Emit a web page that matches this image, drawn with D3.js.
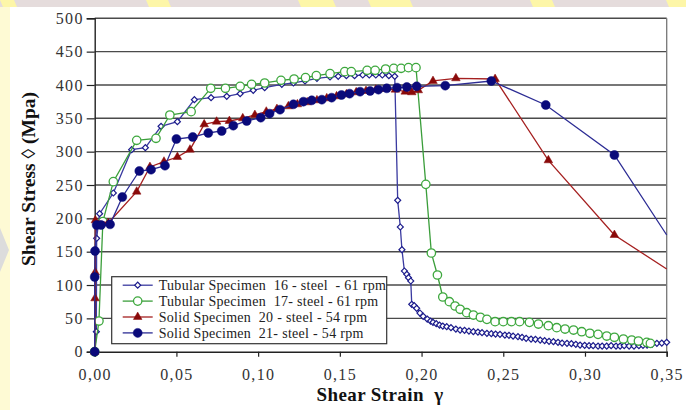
<!DOCTYPE html>
<html>
<head>
<meta charset="utf-8">
<script src="https://cdn.jsdelivr.net/npm/d3@7"></script>
<style>
  body { margin: 0; background: #fff; }
  svg { display: block; }
</style>
</head>
<body>
<svg id="chart" width="686" height="410"></svg>
<script>
// values: [shear strain, shear stress]
let tub16 = [[0,0],[0.001,30],[0.0012,170],[0.003,207],[0.0114,238],[0.0226,303],[0.031,306],[0.0406,338],[0.0506,345],[0.061,378],[0.0712,381],[0.0808,383],[0.089,387],[0.097,392],[0.104,396],[0.1145,401],[0.1216,403],[0.1287,406],[0.136,410],[0.144,412],[0.149,413],[0.154,414],[0.159,414],[0.164,415],[0.168,415],[0.172,415],[0.176,415],[0.180,414],[0.1836,413],[0.1854,227],[0.187,187],[0.188,153],[0.1895,121],[0.191,116],[0.192,111],[0.1934,106],[0.194,71],[0.1955,69],[0.197,65],[0.199,58],[0.201,53],[0.2035,49],[0.2055,46],[0.207,44],[0.209,42],[0.211,40],[0.213,38.5],[0.2154,37.5],[0.218,36],[0.221,34],[0.2236,32.5],[0.2263,32],[0.229,31],[0.2317,30],[0.2345,29.5],[0.237,28.5],[0.24,27.6],[0.2427,27],[0.2453,26.5],[0.248,26],[0.251,25],[0.2535,24.5],[0.256,23.5],[0.259,22.5],[0.2615,21.5],[0.264,20],[0.267,19],[0.2697,18.5],[0.2726,17.5],[0.2753,16.5],[0.278,15.5],[0.2807,15],[0.2835,14],[0.286,13],[0.289,12.6],[0.2917,12],[0.2944,11],[0.297,10],[0.2998,9.5],[0.3025,9],[0.305,9],[0.308,8.5],[0.3105,8.5],[0.3133,8.5],[0.316,9],[0.319,8.5],[0.3215,8.5],[0.324,9],[0.327,8.5],[0.33,8.5],[0.333,9],[0.3355,9.5],[0.338,10],[0.341,11],[0.344,12.5],[0.347,13],[0.35,14]];

let tub17 = [[0,0],[0.0026,46],[0.005,195],[0.0114,255],[0.0257,317],[0.0375,320],[0.046,355],[0.059,360],[0.071,395],[0.080,395],[0.089,398],[0.096,401],[0.104,403],[0.114,407],[0.122,409],[0.129,411],[0.1356,414],[0.144,417],[0.153,420],[0.157,420],[0.1667,422],[0.1716,422],[0.178,424],[0.183,425],[0.1875,425],[0.192,426],[0.1966,426],[0.2026,251],[0.206,148],[0.2097,115],[0.213,82],[0.217,75],[0.2205,68.5],[0.2236,63.6],[0.2276,58.5],[0.2317,55],[0.236,51.6],[0.24,48.5],[0.245,45],[0.25,45],[0.255,45],[0.26,45],[0.266,44],[0.2715,41.5],[0.2776,39],[0.2827,36],[0.2878,34],[0.293,32.5],[0.298,30],[0.303,27.6],[0.308,26],[0.3133,23.5],[0.318,21.6],[0.3235,19],[0.3286,17.5],[0.3327,16],[0.3378,14],[0.34,12.5]];

let sol20 = [[0,0],[0.0002,80],[0.0003,119],[0.0004,197],[0.0083,193],[0.0257,240],[0.0338,277],[0.0424,285],[0.0506,292],[0.0583,303],[0.067,341],[0.0746,345],[0.0824,346],[0.0906,350],[0.098,355],[0.105,360],[0.1115,364],[0.1185,368],[0.124,371],[0.13,374],[0.136,377],[0.142,380],[0.148,383],[0.154,386],[0.16,389],[0.166,391],[0.172,393],[0.178,394],[0.184,393],[0.19,390],[0.194,389],[0.198,392],[0.207,406],[0.221,410],[0.245,409],[0.2776,287],[0.318,175],[0.35,124]];

let sol21 = [[0,0],[0,112],[0.0002,151],[0.0012,190],[0.0039,190],[0.0094,191],[0.0169,232],[0.0273,271],[0.0345,273],[0.043,279],[0.050,319],[0.060,322],[0.0695,328],[0.0777,331],[0.0848,339],[0.093,346],[0.1016,351],[0.107,357],[0.1134,363],[0.1216,371],[0.1277,375],[0.1328,377],[0.139,378],[0.145,381],[0.151,385],[0.156,387],[0.1624,390],[0.1685,391],[0.1736,393],[0.1787,395],[0.185,396],[0.191,397],[0.197,398],[0.2145,399],[0.2427,406],[0.276,370],[0.318,295],[0.35,175]];

let seriesNames = [
    "Tubular Specimen  16 - steel  - 61 rpm",
    "Tubular Specimen  17- steel - 61 rpm",
    "Solid Specimen  20 - steel - 54 rpm",
    "Solid Specimen  21- steel - 54 rpm"
];
let xTicks = [0, 0.05, 0.10, 0.15, 0.20, 0.25, 0.30, 0.35];
let yTicks = [0, 50, 100, 150, 200, 250, 300, 350, 400, 450, 500];

let svg = d3.select("#chart");
let serif = "'Liberation Serif', 'Times New Roman', serif";

// watermark-ish page background
svg.append("rect").attr("width", 686).attr("height", 410).attr("fill", "#fff");
svg.append("rect").attr("width", 10).attr("height", 410).attr("fill", "#fefad4");
svg.append("polygon").attr("points", "0,228 9,250 0,272").attr("fill", "#dcdcdc");
svg.append("rect").attr("width", 686).attr("height", 7).attr("fill", "#e5dcdc");
[[0, 14], [146, 168], [298, 333], [368, 410], [530, 552], [666, 686]].forEach(function (p) {
    svg.append("polygon")
        .attr("points", p[0] + ",0 " + p[1] + ",0 " + (p[1] + 3) + ",7 " + (p[0] + 3) + ",7")
        .attr("fill", "#fdf6a8");
});

let x = d3.scaleLinear().domain([0, 0.35]).range([94.7, 666.7]);
let y = d3.scaleLinear().domain([0, 500]).range([351.7, 18.3]);

// horizontal grid
svg.append("g").selectAll("line")
    .data(yTicks.filter(d => d > 0))
    .enter().append("line")
    .attr("x1", x(0)).attr("x2", x(0.35))
    .attr("y1", d => y(d)).attr("y2", d => y(d))
    .attr("stroke", "#4a4a4a").attr("stroke-width", 1.4);

svg.append("line")
    .attr("x1", x(0.35)).attr("x2", x(0.35))
    .attr("y1", y(500)).attr("y2", y(0))
    .attr("stroke", "#777").attr("stroke-width", 1.3);

let yAxis = svg.append("g")
    .attr("transform", "translate(" + x(0) + ",0)")
    .call(d3.axisLeft(y).tickValues(yTicks).tickSize(8).tickPadding(3).tickFormat(d3.format("d")));
let xAxis = svg.append("g")
    .attr("transform", "translate(0," + y(0) + ")")
    .call(d3.axisBottom(x).tickValues(xTicks).tickSize(5).tickPadding(12)
        .tickFormat(d => d3.format(".2f")(d).replace(".", ",")));

[yAxis, xAxis].forEach(function (a) {
    a.select(".domain").attr("stroke", "#222").attr("stroke-width", 1.4);
    a.selectAll(".tick line").attr("stroke", "#222").attr("stroke-width", 1.2);
    a.selectAll(".tick text")
        .attr("font-family", serif).attr("font-size", 16).attr("letter-spacing", 1.3).attr("fill", "#333");
});

// series
let series = [
    { data: tub16, line: "#3a3aa0", mark: "diamond", stroke: "#1c1c8c", fill: "#fff" },
    { data: tub17, line: "#3b9e3b", mark: "ocircle", stroke: "#3ea83e", fill: "#fff" },
    { data: sol20, line: "#a52020", mark: "triangle", stroke: "#8a0a0a", fill: "#8a0a0a", lastBare: true },
    { data: sol21, line: "#2c2c94", mark: "dot", stroke: "#0a0a7a", fill: "#0a0a7a", lastBare: true }
];

let line = d3.line().x(d => x(d[0])).y(d => y(d[1]));

function drawMark(sel, s) {
    if (s.mark == "diamond") {
        sel.append("path")
            .attr("d", d3.symbol(d3.symbolSquare, 18)())
            .attr("transform", "rotate(45)")
            .attr("fill", s.fill).attr("stroke", s.stroke).attr("stroke-width", 1.2);
    } else if (s.mark == "triangle") {
        sel.append("path")
            .attr("d", d3.symbol(d3.symbolTriangle, 32)())
            .attr("fill", s.fill).attr("stroke", s.stroke).attr("stroke-width", 0.5);
    } else {
        sel.append("circle")
            .attr("r", s.mark == "dot" ? 4.5 : 4.2)
            .attr("fill", s.fill).attr("stroke", s.stroke).attr("stroke-width", s.mark == "dot" ? 0.5 : 1.3);
    }
}

series.forEach(function (s) {
    svg.append("path")
        .attr("d", line(s.data))
        .attr("fill", "none").attr("stroke", s.line).attr("stroke-width", 1.3);
    let pts = s.lastBare ? s.data.slice(0, -1) : s.data;
    svg.append("g").selectAll("g")
        .data(pts)
        .enter().append("g")
        .attr("transform", d => "translate(" + x(d[0]) + "," + y(d[1]) + ")")
        .each(function () { drawMark(d3.select(this), s); });
});

// legend
let legend = svg.append("g").attr("transform", "translate(111.7,276.7)");
legend.append("rect")
    .attr("width", 275).attr("height", 67)
    .attr("fill", "#fff").attr("stroke", "#333").attr("stroke-width", 1.2);
seriesNames.forEach(function (name, i) {
    let s = series[i];
    let row = legend.append("g").attr("transform", "translate(0," + (8.5 + i * 15.9) + ")");
    row.append("line").attr("x1", 11).attr("x2", 41)
        .attr("stroke", s.line).attr("stroke-width", 1.3);
    let m = row.append("g").attr("transform", "translate(26,0)");
    drawMark(m, s);
    row.append("text")
        .attr("x", 47).attr("dy", "0.35em")
        .attr("font-family", serif).attr("font-size", 14).attr("letter-spacing", 0.3).attr("fill", "#222")
        .style("white-space", "pre")
        .text(name);
});

// axis titles
svg.append("text")
    .attr("transform", "translate(28,179) rotate(-90)")
    .attr("text-anchor", "middle").attr("dy", "0.35em")
    .attr("font-family", serif).attr("font-size", 19.5).attr("font-weight", "bold").attr("fill", "#111")
    .text("Shear Stress \u25CA (Mpa)");
svg.append("text")
    .attr("x", 380).attr("y", 394)
    .attr("text-anchor", "middle").attr("dy", "0.35em")
    .attr("font-family", serif).attr("font-size", 19).attr("font-weight", "bold").attr("letter-spacing", 0.4).attr("fill", "#111")
    .style("white-space", "pre")
    .text("Shear Strain  \u03B3");
</script>
</body>
</html>
